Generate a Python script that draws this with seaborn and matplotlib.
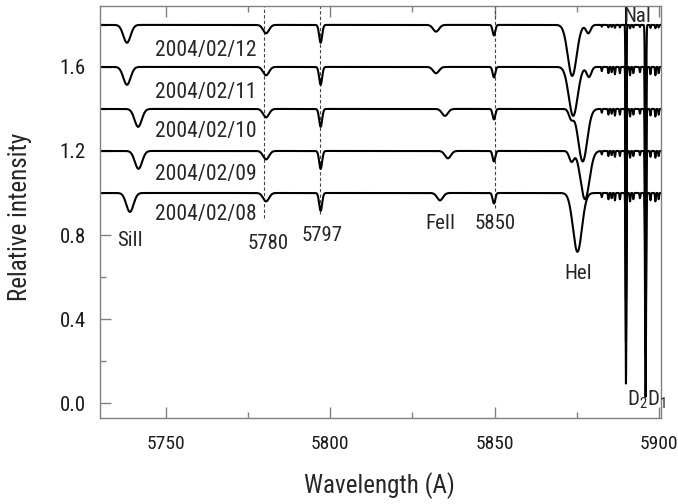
import numpy as np
import pandas as pd
import matplotlib
matplotlib.use("Agg")
import matplotlib.pyplot as plt
import seaborn as sns
from matplotlib import font_manager as fm
from matplotlib.ticker import MultipleLocator, FormatStrFormatter

# ---------------------------------------------------------------- data
dates = ["2004/02/08", "2004/02/09", "2004/02/10", "2004/02/11", "2004/02/12"]
offsets = [1.0, 1.2, 1.4, 1.6, 1.8]

# stellar lines, one value per night (centre in A, depth in continuum units)
si_ii_centre = [5739.1, 5741.7, 5741.6, 5738.2, 5738.2]
si_ii_depth = [0.090, 0.085, 0.085, 0.085, 0.085]
fe_ii_centre = [5833.4, 5835.8, 5834.9, 5832.2, 5832.2]
fe_ii_depth = [0.035, 0.035, 0.033, 0.030, 0.032]
he_i_centre = [5875.2, 5877.5, 5876.8, 5873.9, 5873.6]
he_i_depth = [0.280, 0.230, 0.250, 0.233, 0.243]
he_i_comp_centre = [5878.6, 5873.4, 5873.3, 5878.7, 5878.5]
he_i_comp_depth = [0.000, 0.050, 0.045, 0.048, 0.040]

# interstellar bands, identical on every night
dib_centre = [5780.5, 5797.1, 5849.8]
dib_depth = [0.040, 0.085, 0.050]
dib_width = [0.90, 0.45, 0.40]

# interstellar Na I D2 / D1
na_centre = [5889.95, 5895.92]
na_depth = [0.91, 0.97]
na_width = [0.12, 0.15]

# telluric water lines near the sodium doublet
telluric_centre = [5882.6, 5884.6, 5885.6, 5886.6, 5888.1, 5891.2,
                   5892.2, 5894.2, 5897.4, 5898.9, 5899.9]
telluric_depth = [0.020, 0.030, 0.025, 0.035, 0.030, 0.040,
                  0.030, 0.025, 0.035, 0.040, 0.030]
telluric_scale = [1.0, 0.8, 0.9, 1.0, 0.4]

line_marks = [5780, 5797, 5850]
line_mark_bottom = [0.88, 0.90, 0.93]

x_ticks = [5750, 5800, 5850, 5900]
y_ticks = [0.0, 0.4, 0.8, 1.2, 1.6]


# ---------------------------------------------------------------- fonts
def pick_font():
    entries = fm.fontManager.ttflist
    names = {f.name for f in entries}
    for cand in ["Liberation Sans Narrow", "Roboto Condensed",
                 "Open Sans Condensed", "Noto Sans Condensed"]:
        if cand in names:
            return cand, "normal"
    for f in entries:
        if f.stretch in ("condensed", "semi-condensed", "extra-condensed") \
                and f.style == "normal" and f.weight in (400, "normal", "regular"):
            return f.name, f.stretch
    return "DejaVu Sans", "normal"


sns.set_style("ticks")
FONT, STRETCH = pick_font()
plt.rcParams["font.family"] = [FONT, "DejaVu Sans"]
plt.rcParams["font.stretch"] = STRETCH
plt.rcParams["mathtext.fontset"] = "custom"
plt.rcParams["mathtext.rm"] = FONT
plt.rcParams["mathtext.it"] = FONT

# ---------------------------------------------------------------- spectra
wave = np.arange(5728.0, 5902.0, 0.02)


def absorption(centre, depth, sigma):
    return depth * np.exp(-0.5 * ((wave - centre) / sigma) ** 2)


frames = []
for i, d in enumerate(dates):
    flux = np.full_like(wave, offsets[i])
    flux -= absorption(si_ii_centre[i], si_ii_depth[i], 1.1)
    flux -= absorption(fe_ii_centre[i], fe_ii_depth[i], 0.9)
    flux -= absorption(he_i_centre[i], he_i_depth[i], 1.35)
    flux -= absorption(he_i_comp_centre[i], he_i_comp_depth[i], 0.7)
    for c, a, s in zip(dib_centre, dib_depth, dib_width):
        flux -= absorption(c, a, s)
    for c, a, s in zip(na_centre, na_depth, na_width):
        flux -= absorption(c, a, s)
    for c, a in zip(telluric_centre, telluric_depth):
        flux -= absorption(c, a * telluric_scale[i], 0.12)
    frames.append(pd.DataFrame({"wavelength": wave, "intensity": flux, "date": d}))
spectra = pd.concat(frames, ignore_index=True)

# ---------------------------------------------------------------- figure
fig = plt.figure(figsize=(6.78, 5.04), dpi=100)
ax = fig.add_axes([0.1475, 0.1706, 0.8274, 0.8175])

sns.lineplot(data=spectra, x="wavelength", y="intensity", units="date",
             estimator=None, sort=False, color="black", linewidth=1.5, ax=ax,
             legend=False)

ax.set_xlim(5730.0, 5900.6)
ax.set_ylim(-0.071, 1.890)

# dashed markers of the diffuse bands
for xm, yb in zip(line_marks, line_mark_bottom):
    ax.plot([xm, xm], [yb, 1.890], color="#444444", lw=0.8,
            linestyle=(0, (3, 2)), zorder=1)
# Na I marker above the top spectrum
ax.plot([na_centre[0], na_centre[0]], [1.80, 1.890], color="black", lw=1.5)

# night labels
date_baseline = [0.871, 1.062, 1.267, 1.452, 1.650]
for d, yb in zip(dates, date_baseline):
    ax.text(5746.7, yb, d, fontsize=15.5, ha="left", va="baseline")

# line identifications
labels = [("SiII", 5739.1, 0.750), ("5780", 5781.1, 0.735), ("5797", 5797.5, 0.770),
          ("FeII", 5833.4, 0.830), ("5850", 5850.1, 0.830), ("HeI", 5875.4, 0.590)]
for t, xl, yl in labels:
    ax.text(xl, yl, t, fontsize=15, ha="center", va="baseline")
ax.text(5889.2, 1.812, "NaI", fontsize=15, ha="left", va="baseline")
ax.text(5890.3, -0.010, r"D$_2$", fontsize=15, ha="left", va="baseline")
ax.text(5896.4, -0.010, r"D$_1$", fontsize=15, ha="left", va="baseline")

# axes styling
ax.xaxis.set_major_locator(plt.FixedLocator(x_ticks))
ax.xaxis.set_minor_locator(MultipleLocator(25))
ax.yaxis.set_major_locator(plt.FixedLocator(y_ticks))
ax.yaxis.set_minor_locator(MultipleLocator(0.2))
ax.yaxis.set_major_formatter(FormatStrFormatter("%.1f"))
ax.xaxis.set_major_formatter(FormatStrFormatter("%d"))
ax.tick_params(which="both", direction="in", top=True, right=False,
               color="#808080", width=1.0)
ax.tick_params(which="major", length=8)
ax.tick_params(which="minor", length=4)
ax.tick_params(axis="x", labelsize=14, pad=12, labelcolor="#1a1a1a")
ax.tick_params(axis="y", labelsize=15, pad=10, labelcolor="#1a1a1a")
for sp in ax.spines.values():
    sp.set_color("#808080")
    sp.set_linewidth(1.0)

ax.set_xlabel("Wavelength (A)", fontsize=18)
ax.set_ylabel("Relative intensity", fontsize=18)
ax.xaxis.set_label_coords(0.499, -0.131)
ax.yaxis.set_label_coords(-0.121, 0.487)

fig.savefig("out.png", dpi=100)
